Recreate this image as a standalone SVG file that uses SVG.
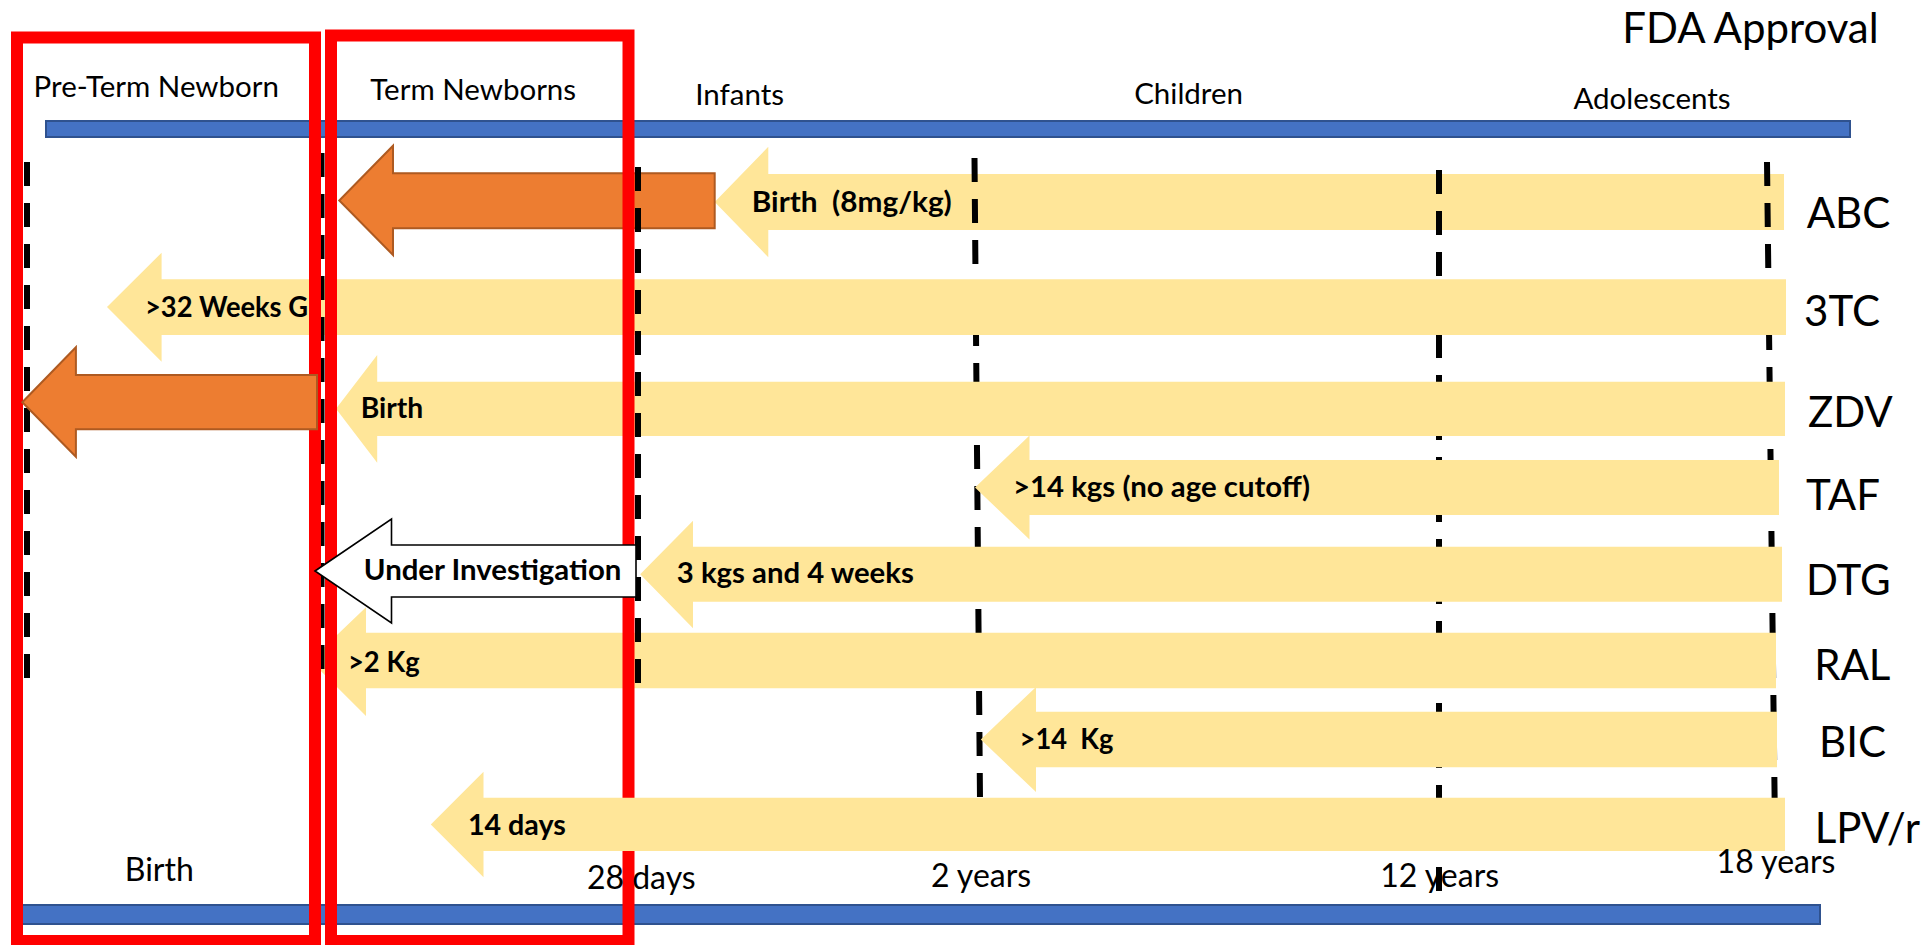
<svg xmlns="http://www.w3.org/2000/svg" width="1926" height="945" viewBox="0 0 1926 945">
<style>
  .bar { fill:#4472C4; stroke:#2F528F; stroke-width:2; }
  .yel { fill:#FFE699; stroke:none; }
  .org { fill:#ED7D31; stroke:#AE5A21; stroke-width:2; }
  .wht { fill:#FFFFFF; stroke:#000000; stroke-width:1.6; }
  .dash { stroke:#000000; stroke-width:6; stroke-dasharray:24 17; fill:none; }
  .red { fill:none; stroke:#FF0000; stroke-width:12; }
  text { font-family: Lato, "Liberation Sans", sans-serif; fill:#000000; }
  .cat { font-size:29.5px; text-anchor:middle; }
  .drug { font-size:42px; text-anchor:middle; }
  .tick { font-size:32px; text-anchor:middle; }
  .b { font-size:28.5px; font-weight:700; white-space:pre; }
</style>
<rect width="1926" height="945" fill="#FFFFFF"/>

<g id="timeline-bars">
  <rect class="bar" x="46" y="121" width="1804" height="16"/>
  <rect class="bar" x="22" y="905" width="1798" height="19"/>
</g>

<g id="abc-arrow">
  <polygon class="yel" points="714.7,202 768.3,146.7 768.3,174 1784,174 1784,230 768.3,230 768.3,257.3"/>
</g>

<g id="connectors-back">
  <line class="dash" x1="974.5" y1="158" x2="980" y2="800"/>
  <line class="dash" x1="1439" y1="170" x2="1439" y2="907"/>
  <line class="dash" x1="1767" y1="162" x2="1775" y2="830"/>
</g>

<g id="abc-orange">
  <polygon class="org" points="339.3,200.5 393,145.7 393,173.3 714.7,173.3 714.7,228.3 393,228.3 393,255"/>
</g>
<g id="tc3-arrow">
  <polygon class="yel" points="107,307 161.6,252.7 161.6,279.3 1786,279.3 1786,335 161.6,335 161.6,361.7"/>
</g>
<g id="zdv-arrow">
  <polygon class="yel" points="336,408.8 377.2,355 377.2,381.7 1785,381.7 1785,436 377.2,436 377.2,462.7"/>
</g>
<g id="taf-arrow">
  <polygon class="yel" points="975,487.5 1029.5,435.5 1029.5,460 1779,460 1779,515 1029.5,515 1029.5,539.5"/>
</g>
<g id="dtg-arrow">
  <polygon class="yel" points="640.2,574.2 693,520.7 693,546.7 1782,546.7 1782,601.7 693,601.7 693,628.3"/>
</g>
<g id="ral-arrow">
  <polygon class="yel" points="310.3,660.5 366,607.3 366,632.7 1776,632.7 1776,688.3 366,688.3 366,716"/>
</g>
<g id="bic-arrow">
  <polygon class="yel" points="980.8,739.5 1036,687 1036,711.7 1777,711.7 1777,767.3 1036,767.3 1036,792"/>
</g>

<g id="connectors-front">
  <line class="dash" x1="27" y1="162" x2="27" y2="690"/>
  <line class="dash" x1="321.5" y1="153" x2="321.5" y2="685"/>
  <line class="dash" x1="638" y1="167" x2="638" y2="695"/>
</g>

<g id="pre-term-box">
  <rect class="red" x="17" y="37.5" width="298" height="903.5"/>
</g>
<g id="term-box">
  <rect class="red" x="331" y="35.5" width="297.5" height="905.5"/>
</g>

<g id="zdv-orange">
  <polygon class="org" points="22.3,402.3 75.9,347.3 75.9,375 317,375 317,429.3 75.9,429.3 75.9,456.7"/>
</g>
<g id="dtg-investigation">
  <polygon class="wht" points="315,571 391.5,519 391.5,545 636,545 636,597 391.5,597 391.5,623"/>
</g>
<g id="lpv-arrow">
  <polygon class="yel" points="430.8,824.4 483.5,771.7 483.5,797.7 1785,797.7 1785,851 483.5,851 483.5,877.3"/>
</g>

<g id="labels">
  <text x="1750.5" y="43" style="font-size:42px;text-anchor:middle">FDA Approval</text>
  <text class="cat" x="156.3" y="97">Pre-Term Newborn</text>
  <text class="cat" x="473.2" y="100">Term Newborns</text>
  <text class="cat" x="739.7" y="105">Infants</text>
  <text class="cat" x="1188.6" y="104">Children</text>
  <text class="cat" x="1652" y="109">Adolescents</text>

  <text class="drug" x="1848.5" y="227.7">ABC</text>
  <text class="drug" x="1842" y="326">3TC</text>
  <text class="drug" x="1850.4" y="426.7">ZDV</text>
  <text class="drug" x="1843" y="510">TAF</text>
  <text class="drug" x="1848.4" y="595">DTG</text>
  <text class="drug" x="1852.3" y="680">RAL</text>
  <text class="drug" x="1852.5" y="757">BIC</text>
  <text class="drug" x="1867.3" y="843">LPV/r</text>

  <text class="tick" x="159.3" y="880.7">Birth</text>
  <text class="tick" x="641.3" y="889.3">28 days</text>
  <text class="tick" x="981" y="886.7">2 years</text>
  <text class="tick" x="1439.7" y="886.7">12 years</text>
  <text class="tick" x="1776" y="873.3">18 years</text>

  <text class="b" x="751.8" y="211.7" textLength="200" lengthAdjust="spacingAndGlyphs" xml:space="preserve">Birth  (8mg/kg)</text>
  <text class="b" x="145" y="317.3" textLength="163" lengthAdjust="spacingAndGlyphs">&gt;32 Weeks G</text>
  <text class="b" x="360.7" y="417.7" textLength="62.5" lengthAdjust="spacingAndGlyphs">Birth</text>
  <text class="b" x="1013" y="497" textLength="297" lengthAdjust="spacingAndGlyphs">&gt;14 kgs (no age cutoff)</text>
  <text class="b" x="363.8" y="580" textLength="257.6" lengthAdjust="spacingAndGlyphs">Under Investigation</text>
  <text class="b" x="676.8" y="582.7" textLength="237" lengthAdjust="spacingAndGlyphs">3 kgs and 4 weeks</text>
  <text class="b" x="348" y="671.7" textLength="71.6" lengthAdjust="spacingAndGlyphs">&gt;2 Kg</text>
  <text class="b" x="1019.6" y="749.3" textLength="93.8" lengthAdjust="spacingAndGlyphs" xml:space="preserve">&gt;14  Kg</text>
  <text class="b" x="467.9" y="835" textLength="98" lengthAdjust="spacingAndGlyphs">14 days</text>
</g>
</svg>
